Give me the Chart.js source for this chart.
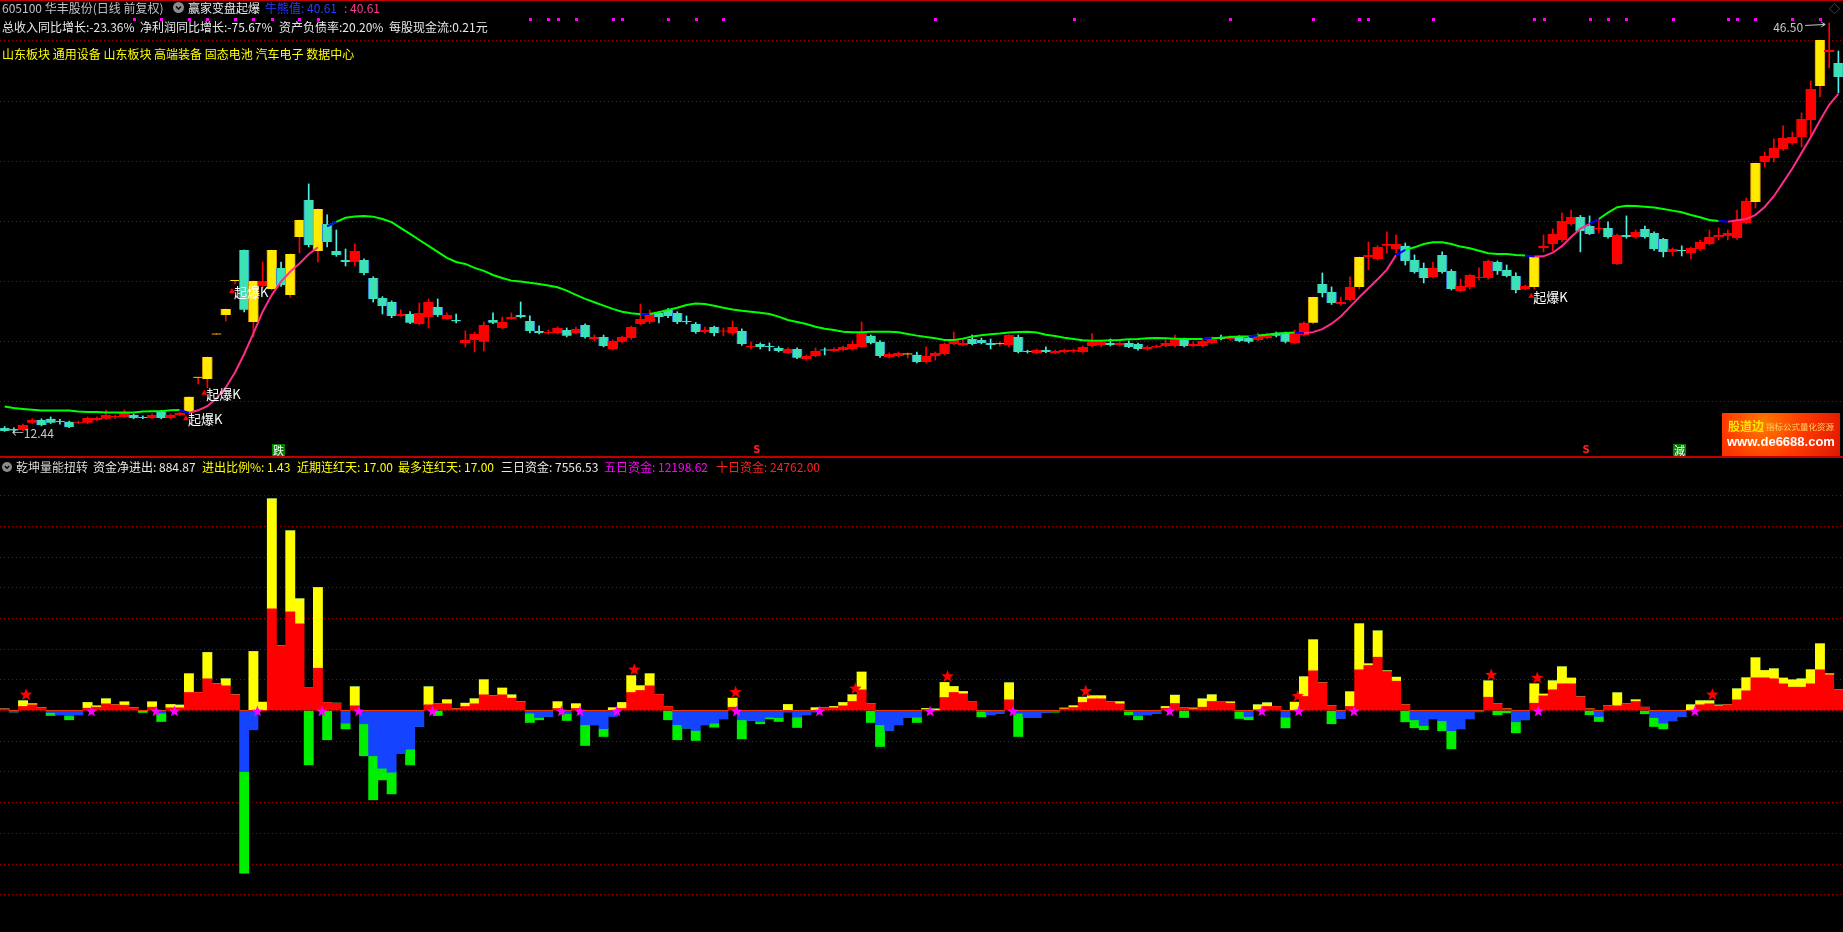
<!DOCTYPE html>
<html>
<head>
<meta charset="utf-8">
<script src="https://cdn.jsdelivr.net/npm/chart.js@4.4.1/dist/chart.umd.min.js"></script>
<style>
html, body { margin: 0; padding: 0; background: #000; }
body { width: 1843px; height: 932px; position: relative; overflow: hidden; font-family: "Noto Sans CJK SC", sans-serif; }
#cTop { position: absolute; left: 0; top: 0; }
#cBot { position: absolute; left: 0; top: 458px; }
.t { position: absolute; white-space: nowrap; font-size: 12px; line-height: 14px; z-index: 2; }
.b { top: 460px; }
.rule { position: absolute; left: 0; width: 1843px; background: #c00000; z-index: 2; }
.ic { position: absolute; z-index: 2; }
#wm { position: absolute; left: 1722px; top: 413px; width: 118px; height: 43px; z-index: 3;
  background: radial-gradient(circle at 35% 25%, #ff7a00 0%, #ff3c00 45%, #e01800 100%); }
#wm div { position: absolute; white-space: nowrap; }
</style>
</head>
<body>
<canvas id="cTop" width="1843" height="458"></canvas>
<canvas id="cBot" width="1843" height="474"></canvas>

<div class="rule" style="top:0;height:1px"></div>
<div class="rule" style="top:456px;height:2px"></div>

<div class="t" style="left:2px;top:1px;color:#c0c0c0">605100 华丰股份(日线 前复权)</div>
<svg class="ic" style="left:173px;top:2px" width="11" height="11"><circle cx="5.5" cy="5.5" r="5.5" fill="#8c8c8c"/><polyline points="3,4.5 5.5,7 8,4.5" fill="none" stroke="#000" stroke-width="1.4"/></svg>
<div class="t" style="left:188px;top:1px;color:#e8e8e8">赢家变盘起爆</div>
<div class="t" style="left:265px;top:1px;color:#2a3cff">牛熊值: 40.61</div>
<div class="t" style="left:344px;top:1px;color:#ff3c8c">: 40.61</div>
<div class="t" style="left:2px;top:20px;color:#e8e8e8">总收入同比增长:-23.36%</div>
<div class="t" style="left:140px;top:20px;color:#e8e8e8">净利润同比增长:-75.67%</div>
<div class="t" style="left:279px;top:20px;color:#e8e8e8">资产负债率:20.20%</div>
<div class="t" style="left:389px;top:20px;color:#e8e8e8">每股现金流:0.21元</div>
<div class="t" style="left:2px;top:47px;color:#ffff00">山东板块 通用设备 山东板块 高端装备 固态电池 汽车电子 数据中心</div>
<div class="t" style="left:1829px;top:1px;color:#707070;font-size:11px">◇</div>

<svg class="ic" style="left:2px;top:462px" width="10" height="10"><circle cx="5" cy="5" r="5" fill="#8c8c8c"/><polyline points="2.8,4 5,6.3 7.2,4" fill="none" stroke="#000" stroke-width="1.3"/></svg>
<div class="t b" style="left:16px;color:#d8d8d8">乾坤量能扭转</div>
<div class="t b" style="left:93px;color:#e8e8e8">资金净进出: 884.87</div>
<div class="t b" style="left:202px;color:#ffff00">进出比例%: 1.43</div>
<div class="t b" style="left:297px;color:#ffff00">近期连红天: 17.00</div>
<div class="t b" style="left:398px;color:#ffff00">最多连红天: 17.00</div>
<div class="t b" style="left:501px;color:#e8e8e8">三日资金: 7556.53</div>
<div class="t b" style="left:604px;color:#ff00ff">五日资金: 12198.62</div>
<div class="t b" style="left:716px;color:#ff2020">十日资金: 24762.00</div>

<div id="wm">
  <div style="left:6px;top:4px;font:bold 12px 'Noto Sans CJK SC';color:#ffe600">股道边</div>
  <div style="left:44px;top:7px;font:8.5px 'Noto Sans CJK SC';color:#ffd060">指标公式量化资源</div>
  <div style="left:5px;top:21px;font:bold 13px 'Liberation Sans';color:#ffffff">www.de6688.com</div>
</div>

<script>
// daily candles, 200 sessions (前复权)
const O = [12.84,12.75,12.67,13.26,13.50,13.59,13.36,13.34,13.26,13.26,
13.50,13.59,13.75,13.75,13.92,13.75,13.67,14.17,13.67,13.92,
14.17,17.00,16.91,20.60,22.23,25.06,27.63,21.65,24.64,24.39,
26.14,23.89,28.71,31.79,27.55,29.79,27.55,26.80,26.63,26.80,
25.30,23.64,23.31,22.15,22.31,21.48,22.06,22.89,21.90,21.81,
19.90,20.15,19.99,21.81,21.15,21.90,22.23,21.73,20.90,20.73,
20.73,20.98,20.73,21.40,20.23,20.40,19.40,19.99,20.32,21.48,
21.65,22.40,22.65,22.40,21.73,21.48,20.81,21.23,20.85,20.73,
20.90,19.57,19.82,19.65,19.49,19.07,19.40,18.57,18.82,19.32,
19.24,19.32,19.40,19.57,20.49,19.99,18.74,18.82,18.95,18.91,
18.32,18.82,18.99,19.82,19.74,20.23,20.15,19.90,19.82,19.74,
20.40,19.24,19.07,19.32,19.07,19.15,19.20,19.15,19.65,19.74,
19.90,19.74,19.90,19.82,19.40,19.57,19.65,19.65,20.23,19.65,
19.65,19.90,20.40,20.23,20.40,20.32,20.15,20.32,20.73,20.73,
19.90,20.56,21.57,24.81,24.14,23.14,23.48,24.56,27.05,26.88,
27.97,27.71,27.97,26.80,26.14,25.39,27.22,25.89,24.22,24.56,
25.30,25.30,26.63,25.97,25.47,24.39,24.56,27.80,28.13,28.46,
29.79,30.37,29.62,29.38,29.46,26.47,28.88,28.71,29.38,29.04,
28.54,27.47,27.63,27.38,27.72,28.13,28.71,28.80,28.63,29.87,
31.62,34.94,35.28,36.02,36.52,37.02,38.43,41.26,44.09,43.17];
const H = [12.95,12.85,13.15,13.60,13.60,13.75,13.55,13.40,13.40,13.75,
13.75,14.33,13.90,14.33,14.00,13.85,14.00,14.30,14.00,14.15,
15.42,17.05,18.74,20.65,22.73,25.06,27.63,25.06,26.63,27.63,
26.63,27.30,30.12,33.12,31.04,30.54,29.29,27.71,28.13,26.90,
25.40,23.75,23.40,22.65,22.50,23.23,23.56,23.56,22.40,22.31,
20.90,20.81,21.65,22.40,22.06,22.40,23.31,22.15,21.32,20.98,
21.25,21.15,21.23,21.50,20.56,20.56,20.15,20.48,21.30,23.14,
22.65,22.50,22.75,22.50,22.15,21.60,21.23,21.30,21.15,21.73,
21.07,19.99,19.90,19.90,19.60,19.50,19.50,18.90,19.49,19.49,
19.50,19.65,20.07,21.65,20.56,20.10,19.07,19.15,19.07,19.15,
19.57,19.15,19.90,20.81,20.32,20.56,20.30,20.23,19.99,20.60,
20.56,19.30,19.40,19.57,19.30,19.40,19.40,19.65,20.65,20.07,
20.23,20.00,20.07,19.90,19.65,19.74,20.32,20.56,20.30,19.99,
20.15,20.40,20.56,20.50,20.50,20.40,20.73,20.73,20.81,20.81,
20.98,21.65,23.72,25.72,24.56,23.72,25.39,27.05,28.30,28.00,
29.13,28.88,28.21,27.22,26.55,26.63,27.47,26.00,25.22,25.60,
26.14,26.80,26.72,26.38,25.72,24.72,27.05,28.88,29.38,30.71,
30.95,30.50,30.46,30.21,29.96,28.96,30.46,29.30,29.62,29.13,
28.60,27.80,27.97,27.88,28.46,29.29,29.46,29.29,30.95,31.95,
34.86,35.78,36.86,37.94,37.44,39.02,41.68,45.08,46.50,44.17];
const L = [12.55,12.44,12.60,13.20,13.00,13.20,13.15,12.85,13.20,13.20,
13.45,13.55,13.60,13.70,13.60,13.60,13.60,13.60,13.60,13.85,
14.00,16.50,16.16,20.60,21.73,24.80,22.48,20.40,24.50,24.30,
24.60,23.70,27.38,27.88,26.63,27.88,27.10,26.30,26.30,25.55,
23.30,22.31,22.00,22.10,21.50,21.40,21.15,22.10,21.85,21.57,
19.57,19.15,19.24,21.50,21.10,21.85,21.98,20.73,20.65,20.65,
20.65,20.40,20.65,20.30,20.07,19.57,19.32,19.90,20.20,21.40,
21.50,21.57,22.00,21.50,21.48,20.70,20.70,20.49,20.49,20.56,
19.70,19.40,19.40,19.24,19.15,19.00,18.60,18.45,18.74,18.90,
19.15,19.24,19.32,19.50,19.82,18.70,18.66,18.74,18.66,18.25,
18.25,18.48,18.90,19.74,19.65,19.74,19.82,19.40,19.65,19.57,
19.07,19.07,19.00,19.10,19.00,19.07,19.10,19.07,19.57,19.60,
19.65,19.65,19.50,19.30,19.30,19.50,19.57,19.57,19.57,19.57,
19.57,19.82,20.15,20.15,19.99,19.90,20.07,20.23,20.40,19.90,
19.82,20.49,21.50,23.72,23.10,23.06,23.40,24.40,25.97,26.80,
27.38,27.38,26.38,25.70,24.89,25.30,25.70,24.30,24.14,24.39,
25.14,25.20,25.60,25.39,24.06,24.30,24.40,27.47,27.55,28.30,
29.70,27.47,28.90,29.04,28.60,26.40,28.60,28.60,28.60,27.60,
27.05,27.13,27.13,26.88,27.60,28.05,28.46,28.46,28.50,29.80,
31.12,34.53,34.94,35.90,36.40,36.19,37.02,40.35,42.76,40.68];
const C = [12.59,12.62,13.09,13.50,13.09,13.26,13.32,12.92,13.34,13.67,
13.67,13.92,13.78,14.09,13.67,13.67,13.92,13.67,13.92,14.09,
15.42,17.00,18.74,20.65,22.73,25.06,22.65,25.06,25.06,27.63,
24.72,27.30,30.12,28.05,31.04,28.30,27.22,26.63,27.55,25.72,
23.56,22.98,22.15,22.31,21.57,22.40,23.31,22.23,22.23,21.70,
20.15,20.65,21.40,21.57,21.65,22.06,22.06,20.90,20.73,20.81,
21.15,20.49,21.07,20.40,20.40,19.65,20.07,20.40,21.23,21.90,
22.31,22.06,22.15,21.65,21.65,20.81,20.98,20.73,20.92,21.23,
19.82,19.65,19.57,19.57,19.24,19.40,18.66,18.82,19.24,19.27,
19.40,19.57,19.82,20.73,19.90,18.82,18.99,19.07,18.99,18.32,
18.82,19.07,19.82,20.23,19.90,19.82,19.90,19.74,19.80,20.56,
19.15,19.15,19.32,19.15,19.24,19.32,19.32,19.57,19.99,19.99,
19.74,19.90,19.57,19.40,19.57,19.65,19.90,20.23,19.65,19.82,
20.07,20.32,20.23,20.40,20.07,19.99,20.56,20.65,20.49,19.99,
20.73,21.57,23.72,24.06,23.23,23.31,24.56,27.05,27.22,27.88,
28.13,28.13,26.72,25.80,25.30,26.14,25.80,24.39,24.64,25.55,
25.39,26.72,25.89,25.47,24.30,24.64,27.05,27.97,28.96,30.04,
30.37,29.21,28.96,29.46,28.71,28.88,28.71,29.13,28.71,27.72,
27.47,27.72,27.55,27.80,28.30,28.71,28.88,29.04,30.12,31.70,
34.86,35.44,36.11,36.94,37.02,38.52,41.01,45.08,44.25,42.01];

// trend line runs: [first session index, values]
const GREEN_RUNS = [
  [0, [14.61,14.50,14.42,14.35,14.28,14.28,14.28,14.28,14.20,14.17,14.17,14.12,14.11,14.11,14.11,14.20,14.22,14.22,14.30,14.33]],
  [35, [29.60,29.96,30.30,30.42,30.46,30.40,30.20,29.95,29.45,28.96,28.46,27.97,27.47,26.97,26.63,
        26.47,26.14,25.89,25.55,25.30,25.08,25.00,24.91,24.80,24.67,24.53,24.25,23.89,23.56,23.28,
        23.00,22.73,22.50,22.37,22.29,22.31,22.45,22.64,22.83,23.06,23.17,23.14,23.00,22.83,22.69,
        22.58,22.50,22.42,22.31,22.09,21.81,21.65,21.48,21.25,21.09,20.98,20.84,20.79,20.79,20.84,
        20.84,20.84,20.79,20.65,20.51,20.40,20.29,20.15,20.15,20.26,20.43,20.54,20.62,20.68,20.76,
        20.82,20.84,20.76,20.59,20.48,20.34,20.23,20.12,20.09,20.09,20.12,20.15,20.21,20.23,20.29,
        20.32,20.29,20.26,20.23,20.23,20.23,20.29,20.34,20.40,20.43,20.43,20.51,20.59,20.68,20.73,20.76]],
  [152, [27.63,27.85,28.13,28.27,28.27,28.13,27.91,27.77,27.57,27.35,27.30,27.30,27.22,27.16]],
  [173, [30.20,30.73,31.18,31.31,31.29,31.23,31.15,31.04,30.90,30.76,30.54,30.35,30.12,30.04]]
];
const PINK_RUNS = [
  [20, [14.10,14.30,14.64,15.30,16.20,17.45,18.98,20.70,22.50,23.90,25.00,25.83,26.50,27.27,27.85]],
  [141, [20.70,20.80,21.05,21.50,22.10,22.90,23.70,24.45,25.20,26.00,27.20]],
  [166, [27.08,27.10,27.40,27.95,28.70,29.40,29.79]],
  [187, [29.98,30.10,30.20,30.55,31.20,32.10,33.25,34.40,35.70,37.00,38.40,39.70,40.61]]
];
const BLUE_AT = [19, 35, 69, 130, 135, 140, 151, 165, 172, 186];

// signals
const SIG_DOT = [14,17,20,22,25,27,29,32,34,57,59,60,62,66,67,72,75,78,101,116,133,142,147,148,155,166,167,172,174,176,181,187,188,190,194,197];
const SIG_YELLOW = [20,21,22,23,24,25,27,29,31,32,34,98,108,142,147,166,190,197];
const BOOM_K = [20, 22, 25, 166];
const SIG_DIE = [30];
const SIG_JIAN = [182];
const SIG_S = [82, 172];

// 乾坤量能扭转 money flow
const FLOW_RED = [1.5,0,4,5.7,2.7,0,0,0,0,2.3,
3.3,6.7,5.7,5.3,2.7,0,3.3,0,2.7,2.7,
18,18,31.7,26.7,24.7,15.7,0,0,0,101.7,
64.7,98.7,86.7,23,42.3,8,7.3,0,4.7,0,
0,0,0,0,0,0,5.7,6.7,6.7,1.7,
4,6.7,15.7,14.7,15.7,12.3,8.7,0,0,0,
2,0,2,0,0,0,0,2,18,20,
24.7,16,4,0,0,0,0,0,0,3.3,
0,0,0,0,0,0,0,0,0,2.7,
2.7,4.7,9,20.7,6.7,0,0,0,0,0,
1,0,13,18,16.7,9,0,0,0,10.7,
0,0,0,0,0,1.7,3,8,11.7,11.7,
8.7,6.7,0,0,0,0,2.3,7,2.7,1.7,
3.3,9,9,7.3,0,0,0.7,4,4,0,
0,14,39.7,27.7,4.7,0,4,40.7,45,53.3,
39,29.3,5.7,0,0,0,0,0,0,0,
0,13.3,6.7,1.7,0,0,7.3,14.7,20.7,26.7,
26.7,13.7,1.7,0,4.7,4.7,6.7,9,3.3,0,
0,0,0,0,5.7,6.7,4.7,5.7,10.7,19.7,
32.7,32.7,31.7,26.7,23.3,23.3,26.7,40.7,35.7,20.7];
const FLOW_YELLOW = [0,0,5.7,1,0,0,0,0,0,5.7,
1.3,5,0,3.3,0,0,5.3,0,3.3,2.7,
18.7,0,26.3,0,7,0,0,59,8.3,110,
0,81,25,0,80.7,0,0,0,19,0,
0,0,0,0,0,0,18,0,4,0,
3.3,5,15,0,6.7,3.3,0,0,0,0,
6.7,0,4.7,0,0,0,2.7,6,16.7,4.7,
12,0,0,0,0,0,0,0,0,9,
0,0,0,0,0,6,0,0,2.7,0,
1.3,3.3,6.7,17.7,0,0,0,0,0,0,
1,1.5,15,6,2.3,0,0,0,0,17,
0,0,0,0,0,0.7,1.7,5.3,3,3,
0,2,0,0,0,0,1.7,8.3,0,0.7,
8.3,6.7,0,1.3,0,0,5,3.7,0,0,
8.3,19.7,31,0,0,0,14.7,46,1.7,26.3,
0.7,4,0,0,0,0,0,0,0,0,
0,16.3,0,0,0,0,19.3,1.7,9,17,
5.7,0,0,0,0,13,0,1.7,0,0,
0,0,0,5.7,4,3,0.7,0,11,13,
20,7.3,10,5.7,7.3,8.3,14,26,1,0];
const FLOW_BLUE = [0,-1.5,0,0,0,-2,-4.3,-5.3,-4.3,0,
0,0,0,0,0,0,0,-2.7,0,0,
0,0,0,0,0,0,-61,-19.3,0,0,
0,0,0,0,0,0,0,-12.7,0,-13.3,
-45.3,-57.7,-61.7,-42.7,-38.7,-16,0,0,0,0,
0,0,0,0,0,0,0,-2.7,-7,-6,
0,-3,0,-14.3,-14.3,-18.3,-6,0,0,0,
0,0,0,-14.3,-17.7,-20,-14.3,-12.7,-8.3,0,
-9.3,-10,-11,-6.7,-7,-1.7,-6.7,-4.3,-1.7,0,
0,0,0,0,0,-14.3,-20,-14.3,-6.7,-6.7,
0,0,0,0,0,0,-1,-4.3,-2.7,0,
-2.7,-6.7,-6.7,-2,-1,0,0,0,0,0,
0,0,-1,-5.3,-4.3,-2.7,0,0,0,0,
0,0,0,0,-1,-6,0,0,0,-6.7,
0,0,0,0,0,-8,0,0,0,0,
0,0,0,-9.3,-15,-8.3,-10.3,-20.3,-18.3,-8.3,
-1.3,0,0,0,-11.3,-9.3,0,0,0,0,
0,0,0,-6,0,0,0,0,0,-7,
-12.7,-10.3,-6,0,0,0,0,0,0,0,
0,0,0,0,0,0,0,0,0,0];
const FLOW_GREEN = [0,0,0,0,0,-3,0,-4,0,0,
0,0,0,0,0,-2,0,-8.3,0,0,
0,0,0,0,0,0,-101.7,0,0,0,
0,0,0,-54.3,0,-29.3,0,-5.7,0,-32,
-44,-11.7,-21.7,0,-15.7,0,0,-5,0,0,
0,0,0,0,0,0,0,-9.3,-2.3,0,
0,-7,0,-20.7,0,-7.7,0,0,0,0,
0,0,-9.3,-15,0,-10,0,-4,0,0,
-19,0,-2.3,-1.7,-4,0,-10.3,0,0,0,
0,0,0,0,-12,-21.7,0,0,0,-5.3,
0,0,0,0,0,0,-5.3,0,0,0,
-23.3,0,0,0,-0.7,0,0,0,0,0,
0,0,-3.3,-4,0,0,0,0,-7,0,
0,0,0,0,-7,-3.3,0,0,0,-10.7,
0,0,0,0,-13.3,0,0,0,0,0,
0,0,-11.3,-8,-4.3,0,-10,-18,0,0,
0,0,-4.3,-2.3,-11,0,0,0,0,0,
0,0,-4.3,-5,0,0,0,0,-3.3,-9,
-5.7,0,0,0,0,0,0,0,0,0,
0,0,0,0,0,0,0,0,0,0];
const STAR_RED = [2,68,79,92,102,117,140,161,166,185];
const STAR_PINK = [9,16,18,27,34,38,46,60,62,66,79,88,100,109,126,136,140,146,166,183];
const FLOW_STEP = 30.7;

const DAYS = O.map((_, i) => String(i + 1));

const fromRuns = runs => {
  const out = DAYS.map(() => null);
  runs.forEach(([start, vals]) => vals.forEach((v, k) => { out[start + k] = v; }));
  return out;
};
const GREEN = fromRuns(GREEN_RUNS);
const PINK = fromRuns(PINK_RUNS);
const BLUE = DAYS.map(() => null);
BLUE_AT.forEach(i => {
  BLUE[i] = GREEN[i] ?? PINK[i];
  BLUE[i + 1] = GREEN[i + 1] ?? PINK[i + 1];
});

const isYellow = i => SIG_YELLOW.includes(i);
const isUp = i => C[i] >= O[i];
const bodyFill = i => isYellow(i) ? '#ffea00' : (isUp(i) ? '#ff0000' : '#3ce2b6');
const bodyEdge = i => isYellow(i) ? '#d09400' : (isUp(i) ? '#ff0000' : '#2f70d0');
const wickFill = i => (isYellow(i) || isUp(i)) ? '#ff0000' : '#50f0ec';

const drawStar = (ctx, cx, cy, r, color) => {
  ctx.beginPath();
  for (let k = 0; k < 10; k++) {
    const rr = k % 2 ? r * 0.42 : r;
    const a = -Math.PI / 2 + k * Math.PI / 5;
    ctx.lineTo(cx + rr * Math.cos(a), cy + rr * Math.sin(a));
  }
  ctx.closePath();
  ctx.fillStyle = color;
  ctx.fill();
};

const FONT = '"Noto Sans CJK SC", sans-serif';
Chart.defaults.font.family = FONT;

const priceMarks = {
  id: 'priceMarks',
  afterDatasetsDraw(chart) {
    const { ctx, chartArea } = chart;
    const x = chart.scales.x, y = chart.scales.y;
    ctx.save();
    ctx.fillStyle = '#ff00ff';
    SIG_DOT.forEach(i => ctx.fillRect(Math.round(x.getPixelForValue(i)) - 1, chartArea.top + 18, 3, 3));

    ctx.font = '13px ' + FONT;
    ctx.textBaseline = 'middle';
    ctx.textAlign = 'left';
    BOOM_K.forEach(i => {
      const px = x.getPixelForValue(i);
      const q = y.getPixelForValue(L[i] * 0.98);
      ctx.fillStyle = '#ff0000';
      ctx.beginPath();
      ctx.moveTo(px - 3, q - 2);
      ctx.lineTo(px, q + 3);
      ctx.lineTo(px - 6, q + 3);
      ctx.closePath();
      ctx.fill();
      ctx.fillStyle = '#ffffff';
      ctx.fillText('起爆K', px - 1, q + 2);
    });

    ctx.font = '11px ' + FONT;
    ctx.textAlign = 'center';
    const box = (i, txt) => {
      const px = x.getPixelForValue(i);
      ctx.fillStyle = '#008000';
      ctx.fillRect(Math.round(px) - 9, chartArea.bottom - 14, 13, 13);
      ctx.fillStyle = '#ffffff';
      ctx.fillText(txt, Math.round(px) - 2.5, chartArea.bottom - 7.5);
    };
    SIG_DIE.forEach(i => box(i, '跌'));
    SIG_JIAN.forEach(i => box(i, '減'));

    ctx.fillStyle = '#ff2020';
    ctx.font = 'bold 10px "DejaVu Sans"';
    SIG_S.forEach(i => ctx.fillText('S', x.getPixelForValue(i) - 3.5, chartArea.bottom - 8));

    // extreme price tags
    const hi = H.indexOf(Math.max(...H));
    const lo = L.indexOf(Math.min(...L));
    const hx = x.getPixelForValue(hi), hy = y.getPixelForValue(H[hi]);
    ctx.font = '12px ' + FONT;
    ctx.fillStyle = '#c8c8c8';
    ctx.textAlign = 'right';
    ctx.fillText(H[hi].toFixed(2), hx - 26, hy + 4);
    ctx.strokeStyle = '#c8c8c8';
    ctx.lineWidth = 1;
    ctx.beginPath();
    ctx.moveTo(hx - 24, hy + 2.5); ctx.lineTo(hx - 4, hy + 1.5);
    ctx.moveTo(hx - 8, hy - 1); ctx.lineTo(hx - 4, hy + 1.5); ctx.lineTo(hx - 8, hy + 4);
    ctx.stroke();
    const lx = x.getPixelForValue(lo), ly = y.getPixelForValue(L[lo]);
    ctx.textAlign = 'left';
    ctx.fillText('←' + L[lo].toFixed(2), lx - 2, ly + 1);
    ctx.restore();
  }
};

const flowMarks = {
  id: 'flowMarks',
  afterDatasetsDraw(chart) {
    const { ctx } = chart;
    const x = chart.scales.x, y = chart.scales.y;
    ctx.save();
    STAR_RED.forEach(i => drawStar(ctx, x.getPixelForValue(i) + 3,
      y.getPixelForValue(FLOW_RED[i] + FLOW_YELLOW[i]) - 6, 6.5, '#ff0000'));
    STAR_PINK.forEach(i => drawStar(ctx, x.getPixelForValue(i) + 4, y.getPixelForValue(0) + 1, 6, '#ff00ff'));
    ctx.restore();
  }
};

const hiddenY = (min, max, step, keep) => ({
  min, max,
  afterFit(s) { s.width = 0; },
  ticks: { display: false, stepSize: step },
  grid: {
    drawTicks: false,
    lineWidth: 1,
    color: c => keep(c.tick.value) ? '#a80000' : 'rgba(0,0,0,0)'
  },
  border: { display: false, dash: [1, 3] }
});

const onStep = (v, step) => Math.abs(v / step - Math.round(v / step)) < 0.01;

new Chart(document.getElementById('cTop'), {
  data: {
    labels: DAYS,
    datasets: [
      { type: 'line', data: BLUE, borderColor: '#0000ff', borderWidth: 2, pointRadius: 0, spanGaps: false, order: 0 },
      { type: 'line', data: GREEN, borderColor: '#00ff00', borderWidth: 2, pointRadius: 0, spanGaps: false, order: 0 },
      { type: 'line', data: PINK, borderColor: '#ff2a8a', borderWidth: 2, pointRadius: 0, spanGaps: false, order: 0 },
      {
        type: 'bar', data: O.map((o, i) => [o, C[i]]), order: 1, grouped: false,
        barThickness: 10, minBarLength: 1, borderSkipped: false,
        borderWidth: { left: 1, right: 1, top: 0, bottom: 0 },
        backgroundColor: c => bodyFill(c.dataIndex),
        borderColor: c => bodyEdge(c.dataIndex)
      },
      {
        type: 'bar', data: L.map((l, i) => [l, H[i]]), order: 2, grouped: false,
        barThickness: 1, minBarLength: 1,
        backgroundColor: c => wickFill(c.dataIndex)
      }
    ]
  },
  options: {
    responsive: false,
    animation: false,
    events: [],
    layout: { padding: 0, autoPadding: false },
    plugins: { legend: { display: false }, tooltip: { enabled: false } },
    scales: {
      x: { display: false, offset: true },
      y: hiddenY(10.337, 48.408, 5, v => onStep(v, 5))
    }
  },
  plugins: [priceMarks]
});

new Chart(document.getElementById('cBot'), {
  type: 'bar',
  data: {
    labels: DAYS,
    datasets: [
      { data: FLOW_RED, backgroundColor: '#ff0000' },
      { data: FLOW_YELLOW, backgroundColor: '#ffff00' },
      { data: FLOW_BLUE, backgroundColor: '#1444ff' },
      { data: FLOW_GREEN, backgroundColor: '#00ee00' }
    ]
  },
  options: {
    responsive: false,
    animation: false,
    events: [],
    layout: { padding: 0, autoPadding: false },
    datasets: { bar: { barPercentage: 1, categoryPercentage: 1 } },
    plugins: { legend: { display: false }, tooltip: { enabled: false } },
    scales: {
      x: { display: false, stacked: true },
      y: Object.assign(hiddenY(-221.5, 252.5, FLOW_STEP, v => onStep(v, FLOW_STEP) && v <= 7.5 * FLOW_STEP), { stacked: true })
    }
  },
  plugins: [flowMarks]
});
</script>
</body>
</html>
